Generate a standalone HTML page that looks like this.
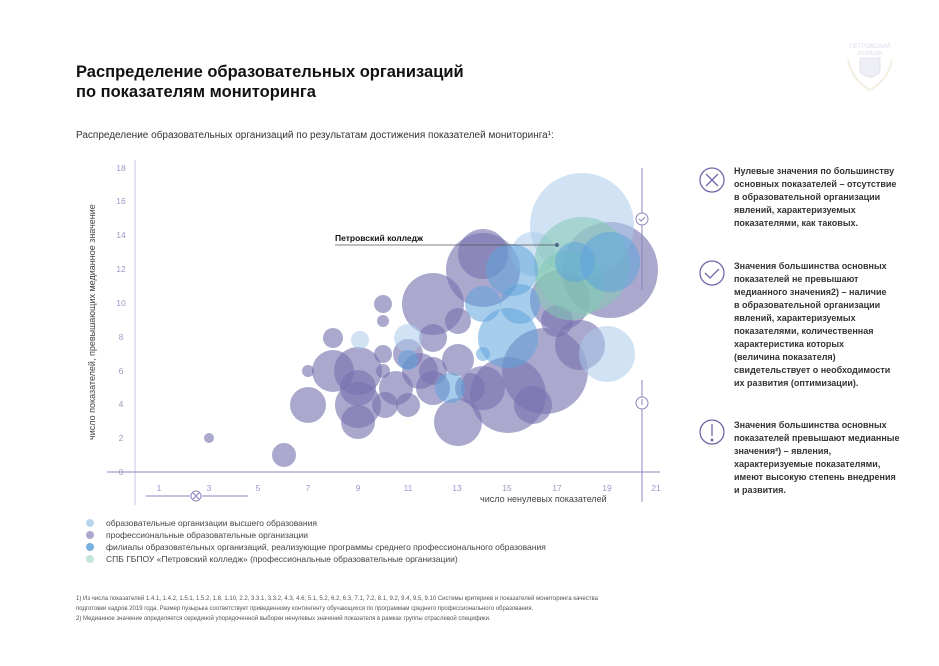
<!DOCTYPE html>
<html><head><meta charset="utf-8"><style>
html,body{margin:0;padding:0;background:#fff;}
body{width:939px;height:666px;overflow:hidden;position:relative;font-family:"Liberation Sans","DejaVu Sans",sans-serif;}
svg{position:absolute;left:0;top:0;}
</style></head><body>
<svg width="939" height="666" viewBox="0 0 939 666" xmlns="http://www.w3.org/2000/svg" font-family="Liberation Sans, DejaVu Sans, sans-serif">
<!-- logo -->
<g opacity="0.3">
<text x="870" y="48" font-size="6" fill="#8a90b8" text-anchor="middle">ПЕТРОВСКИЙ</text>
<text x="870" y="55" font-size="5" fill="#8a90b8" text-anchor="middle">КОЛЛЕДЖ</text>
<path d="M860 58 h20 v14 q-10 10 -20 0z" fill="#c8cce4" stroke="#8a90b8" stroke-width="0.8"/>
<path d="M848 60 q4 20 22 30 q18 -10 22 -30" fill="none" stroke="#d8c89a" stroke-width="2"/>
</g>
<!-- title -->
<text x="76" y="77" font-size="16.5" font-weight="bold" fill="#111">Распределение образовательных  организаций</text>
<text x="76" y="97" font-size="16.5" font-weight="bold" fill="#111">по показателям мониторинга</text>
<text x="76" y="138" font-size="10" fill="#333">Распределение образовательных организаций по результатам достижения показателей мониторинга¹:</text>

<!-- axes -->
<line x1="135" y1="160" x2="135" y2="505" stroke="#c8c6e0" stroke-width="1"/>
<line x1="107" y1="472" x2="660" y2="472" stroke="#8a86bd" stroke-width="1"/>
<g font-size="8.5" fill="#9a98c4" text-anchor="middle">
<text x="121" y="171">18</text><text x="121" y="204">16</text><text x="121" y="238">14</text>
<text x="121" y="272">12</text><text x="121" y="306">10</text><text x="121" y="340">8</text>
<text x="121" y="374">6</text><text x="121" y="407">4</text><text x="121" y="441">2</text>
<text x="121" y="475">0</text>
<text x="159" y="491">1</text><text x="209" y="491">3</text><text x="258" y="491">5</text>
<text x="308" y="491">7</text><text x="358" y="491">9</text><text x="408" y="491">11</text>
<text x="457" y="491">13</text><text x="507" y="491">15</text><text x="557" y="491">17</text>
<text x="607" y="491">19</text><text x="656" y="491">21</text>
</g>
<text x="480" y="502" font-size="9" fill="#444">число ненулевых показателей</text>
<text transform="translate(95,440) rotate(-90)" font-size="9" fill="#444">число  показателей, превышающих медианное значение</text>

<!-- bubbles purple -->
<g fill="#7773b0" fill-opacity="0.62">
<circle cx="209" cy="438" r="5"/>
<circle cx="284" cy="455" r="12"/>
<circle cx="308" cy="405" r="18"/>
<circle cx="308" cy="371" r="6"/>
<circle cx="333" cy="371" r="21"/>
<circle cx="333" cy="338" r="10"/>
<circle cx="358" cy="371" r="24"/>
<circle cx="358" cy="388" r="18"/>
<circle cx="358" cy="405" r="23"/>
<circle cx="358" cy="422" r="17"/>
<circle cx="383" cy="304" r="9"/>
<circle cx="383" cy="321" r="6"/>
<circle cx="383" cy="354" r="9"/>
<circle cx="383" cy="371" r="7"/>
<circle cx="385" cy="405" r="13"/>
<circle cx="396" cy="388" r="17"/>
<circle cx="408" cy="405" r="12"/>
<circle cx="408" cy="354" r="15"/>
<circle cx="420" cy="371" r="18"/>
<circle cx="433" cy="338" r="14"/>
<circle cx="433" cy="388" r="17"/>
<circle cx="433" cy="371" r="14"/>
<circle cx="433" cy="304" r="31"/>
<circle cx="458" cy="321" r="13"/>
<circle cx="458" cy="422" r="24"/>
<circle cx="458" cy="360" r="16"/>
<circle cx="470" cy="388" r="15"/>
<circle cx="483" cy="270" r="37"/>
<circle cx="483" cy="254" r="25"/>
<circle cx="483" cy="388" r="22"/>
<circle cx="508" cy="395" r="38"/>
<circle cx="533" cy="405" r="19"/>
<circle cx="545" cy="371" r="43"/>
<circle cx="557" cy="321" r="16"/>
<circle cx="560" cy="300" r="30"/>
<circle cx="580" cy="345" r="25"/>
<circle cx="610" cy="270" r="48"/>
</g>
<!-- light blue -->
<g fill="#a9cbe9" fill-opacity="0.55">
<circle cx="582" cy="225" r="52"/>
<circle cx="607" cy="354" r="28"/>
<circle cx="533" cy="254" r="22"/>
<circle cx="408" cy="338" r="14"/>
<circle cx="360" cy="340" r="9"/>
</g>
<!-- green -->
<g fill="#84c8b4" fill-opacity="0.55">
<circle cx="582" cy="265" r="48"/>
<circle cx="570" cy="285" r="35"/>
</g>
<!-- medium blue -->
<g fill="#5ea4dc" fill-opacity="0.55">
<circle cx="508" cy="338" r="30"/>
<circle cx="483" cy="304" r="18"/>
<circle cx="512" cy="270" r="26"/>
<circle cx="610" cy="262" r="30"/>
<circle cx="483" cy="354" r="7"/>
<circle cx="450" cy="388" r="15"/>
<circle cx="520" cy="304" r="20"/>
<circle cx="408" cy="360" r="10"/>
<circle cx="575" cy="262" r="20"/>
</g>

<!-- Petrovsky label -->
<line x1="335" y1="245" x2="557" y2="245" stroke="#555" stroke-width="0.8"/>
<circle cx="557" cy="245" r="2" fill="#4a6a8a"/>
<text x="335" y="241" font-size="8.5" font-weight="bold" fill="#111">Петровский колледж</text>

<!-- markers -->
<g stroke="#8a86bd" fill="none" stroke-width="1">
<line x1="642" y1="168" x2="642" y2="290"/>
<circle cx="642" cy="219" r="6" fill="#fff"/>
<path d="M639 219 l2 2 l4 -4"/>
<line x1="642" y1="380" x2="642" y2="502"/>
<circle cx="642" cy="403" r="6" fill="#fff"/>
<line x1="642" y1="399" x2="642" y2="405"/>
<line x1="146" y1="496" x2="190" y2="496"/>
<line x1="202" y1="496" x2="248" y2="496"/>
<circle cx="196" cy="496" r="5"/>
<path d="M193 493 l6 6 M199 493 l-6 6"/>
</g>

<!-- right side icons -->
<g stroke="#6f6aa8" fill="none" stroke-width="1.3">
<circle cx="712" cy="180" r="12"/>
<path d="M706 174 l12 12 M718 174 l-12 12"/>
<circle cx="712" cy="273" r="12"/>
<path d="M705 273 l5 5 l9 -9"/>
<circle cx="712" cy="432" r="12"/>
<line x1="712" y1="424" x2="712" y2="436"/>
<circle cx="712" cy="440" r="0.8" fill="#6f6aa8"/>
</g>
<g font-size="9" font-weight="bold" fill="#333">
<text x="734" y="174">Нулевые значения по большинству</text>
<text x="734" y="187">основных показателей – отсутствие</text>
<text x="734" y="200">в образовательной организации</text>
<text x="734" y="213">явлений, характеризуемых</text>
<text x="734" y="226">показателями, как таковых.</text>
<text x="734" y="269">Значения большинства основных</text>
<text x="734" y="282">показателей не превышают</text>
<text x="734" y="295">медианного значения2) – наличие</text>
<text x="734" y="308">в образовательной организации</text>
<text x="734" y="321">явлений, характеризуемых</text>
<text x="734" y="334">показателями, количественная</text>
<text x="734" y="347">характеристика которых</text>
<text x="734" y="360">(величина показателя)</text>
<text x="734" y="373">свидетельствует о необходимости</text>
<text x="734" y="386">их развития (оптимизации).</text>
<text x="734" y="428">Значения большинства основных</text>
<text x="734" y="441">показателей превышают медианные</text>
<text x="734" y="454">значения²) – явления,</text>
<text x="734" y="467">характеризуемые показателями,</text>
<text x="734" y="480">имеют высокую степень внедрения</text>
<text x="734" y="493">и развития.</text>
</g>

<!-- legend -->
<circle cx="90" cy="523" r="4" fill="#b8d6ef"/>
<circle cx="90" cy="535" r="4" fill="#aaa7d0"/>
<circle cx="90" cy="547" r="4" fill="#79b0e0"/>
<circle cx="90" cy="559" r="4" fill="#c4e6da"/>
<g font-size="8.5" fill="#444">
<text x="106" y="526">образовательные организации высшего образования</text>
<text x="106" y="538">профессиональные образовательные организации</text>
<text x="106" y="550">филиалы образовательных организаций, реализующие программы среднего профессионального образования</text>
<text x="106" y="562">СПБ ГБПОУ «Петровский колледж» (профессиональные образовательные организации)</text>
</g>
<g font-size="6" fill="#555">
<text x="76" y="600">1) Из числа показателей 1.4.1, 1.4.2, 1.5.1, 1.5.2, 1.8, 1.10, 2.2, 3.3.1, 3.3.2, 4.3, 4.6, 5.1, 5.2, 6.2, 6.3, 7.1, 7.2, 8.1, 9.2, 9.4, 9.5, 9.10 Системы критериев и показателей мониторинга качества</text>
<text x="76" y="610">подготовки кадров 2019 года. Размер пузырька соответствует приведенному контингенту обучающихся по программам среднего профессионального образования.</text>
<text x="76" y="620">2) Медианное значение определяется серединой упорядоченной выборки ненулевых значений показателя в рамках группы отраслевой специфики.</text>
</g>
</svg>
</body></html>
